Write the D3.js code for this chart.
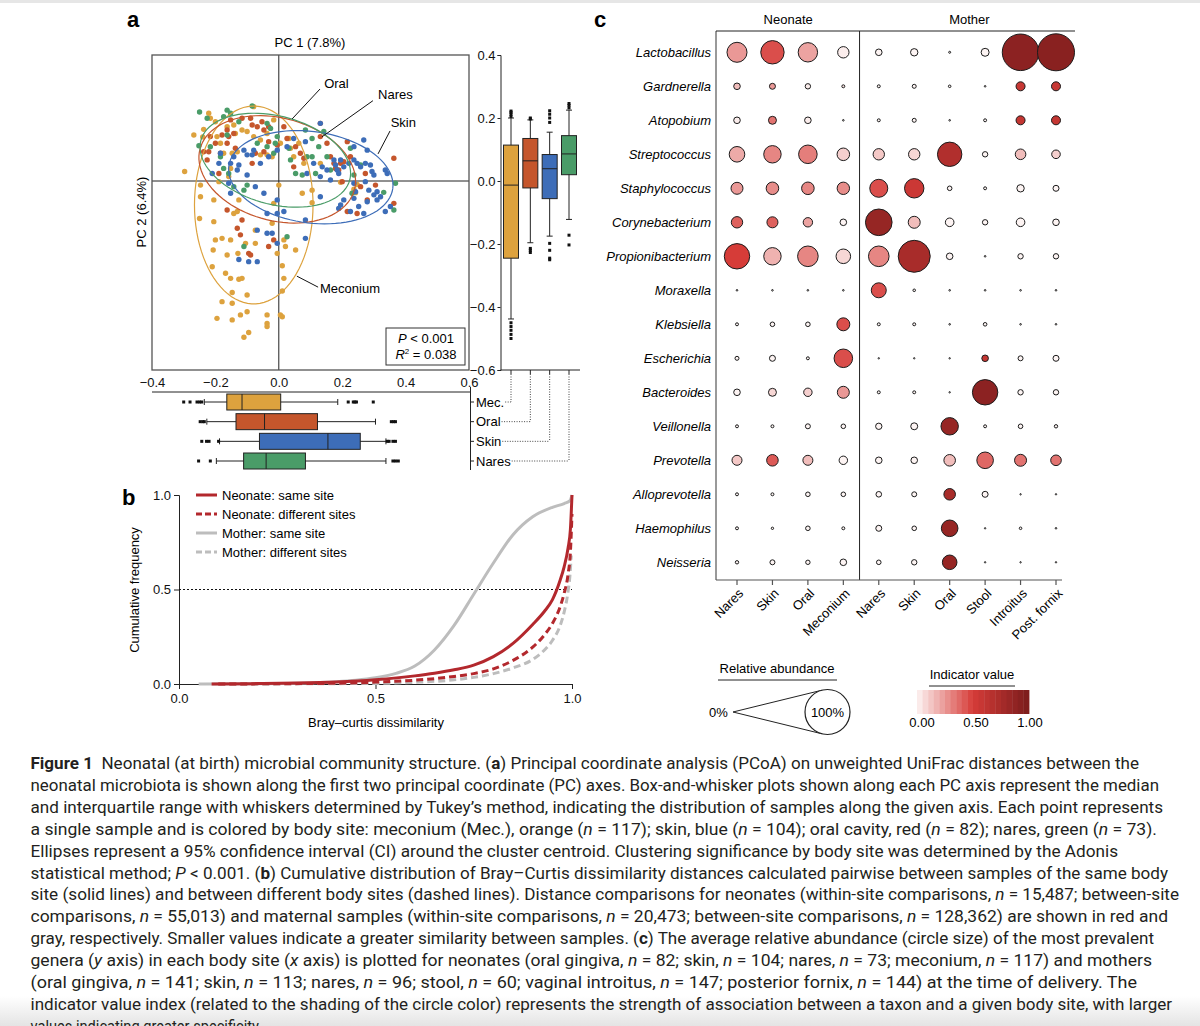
<!DOCTYPE html>
<html>
<head>
<meta charset="utf-8">
<script src="https://cdn.jsdelivr.net/npm/d3@7/dist/d3.min.js"></script>
<style>
  body { margin: 0; background: #fff; }
  svg { font-family: "Liberation Sans", Arial, Helvetica, sans-serif; }
</style>
</head>
<body>
<svg id="fig" width="1200" height="1026"></svg>
<script>
// ---------- panel a : PCoA points (PC1, PC2) ----------
var siteNames = ["Mec.", "Oral", "Skin", "Nares"];
var siteColors = ["#DDA23E", "#C5562C", "#3D6DB8", "#4A9C68"];

var mecPts = [[-0.297,0.030],[-0.250,-0.119],[-0.205,-0.129],[-0.200,-0.187],[-0.179,-0.182],[-0.152,-0.187],
  [-0.207,-0.219],[-0.163,-0.235],[-0.129,-0.230],[-0.105,-0.198],[-0.074,-0.198],[-0.168,-0.293],[-0.152,-0.309],
  [-0.126,-0.312],[-0.116,-0.309],[-0.210,-0.272],[-0.147,-0.354],[-0.100,-0.362],[-0.179,-0.383],[-0.147,-0.388],
  [-0.195,-0.436],[-0.147,-0.441],[-0.121,-0.425],[-0.100,-0.415],[-0.095,-0.481],[-0.110,-0.496],[-0.037,-0.425],
  [-0.037,-0.452],[-0.037,-0.462],[0.005,-0.425],[0.011,-0.431],[0.011,-0.269],[0.016,-0.309],[0.011,-0.349],
  [-0.005,-0.230],[0.021,-0.208],[0.016,-0.187],[0.053,-0.219],[-0.021,-0.134],[-0.074,-0.156],[-0.131,-0.097],
  [-0.247,-0.050],[-0.247,-0.013],[-0.189,-0.002],[0.000,-0.013],[0.074,-0.039],[0.105,-0.029],[0.105,-0.069],
  [0.079,0.056],[0.131,0.056],[0.195,-0.004],[0.237,-0.026],[0.242,-0.037],[0.247,-0.011],[-0.268,0.146],
  [-0.221,0.215],[-0.237,0.164],[-0.216,0.199],[-0.200,0.188],[-0.163,0.172],[-0.142,0.178],[-0.137,0.151],
  [-0.116,0.162],[-0.100,0.157],[-0.079,0.141],[-0.058,0.130],[-0.037,0.151],[-0.016,0.194],[-0.079,0.236],
  [-0.131,0.093],[-0.147,0.088],[-0.184,0.120],[-0.195,0.141],[-0.152,0.040],[-0.158,0.014],[-0.174,0.088],
  [-0.058,0.083],[-0.037,0.083],[-0.021,0.077],[0.005,0.120],[0.032,0.135],[0.037,0.104],[0.047,0.077],
  [0.063,0.120],[-0.126,-0.060],[-0.016,-0.071],[-0.142,-0.103],[-0.205,-0.060],[-0.240,0.140]];

var oralPts = [[-0.152,0.194],[-0.163,0.162],[-0.179,0.146],[-0.158,0.141],[-0.142,0.151],[-0.216,0.141],
  [-0.200,0.120],[-0.163,0.120],[-0.226,0.067],[-0.221,0.093],[-0.184,0.088],[-0.137,0.104],[-0.116,0.199],
  [-0.089,0.199],[-0.084,0.178],[-0.068,0.172],[-0.053,0.188],[-0.047,0.162],[-0.032,0.172],[-0.074,0.088],
  [-0.047,0.093],[-0.084,0.056],[-0.032,0.125],[-0.005,0.114],[0.016,0.172],[0.026,0.135],[0.053,0.109],
  [0.068,0.088],[0.079,0.072],[0.047,0.045],[0.131,0.183],[0.131,0.141],[0.152,0.120],[0.163,0.077],
  [0.174,0.056],[0.189,0.035],[0.200,-0.002],[0.205,0.061],[0.216,0.125],[0.226,0.077],[0.258,-0.018],
  [0.273,0.024],[0.305,-0.013],[0.363,0.072],[0.363,-0.071],[0.279,-0.060],[0.247,-0.103],[0.216,-0.097],
  [-0.163,-0.092],[-0.131,-0.150],[-0.121,-0.171],[-0.095,-0.230],[-0.089,-0.235],[-0.032,-0.208],
  [-0.016,-0.187],[-0.116,-0.124],[-0.189,0.024],[-0.237,0.093],[0.179,0.040],[0.195,0.056]];

var skinPts = [[0.131,0.183],[0.084,0.125],[0.047,0.135],[0.026,0.109],[-0.005,0.098],[-0.032,0.077],
  [-0.058,0.056],[-0.079,0.098],[-0.084,0.083],[-0.100,0.083],[-0.110,0.098],[-0.126,0.051],[-0.142,0.077],
  [-0.189,0.056],[-0.152,0.056],[-0.210,0.024],[-0.158,-0.007],[-0.131,0.035],[-0.100,0.019],[-0.074,-0.018],
  [-0.047,-0.039],[-0.005,-0.060],[-0.005,-0.103],[0.016,-0.097],[-0.037,-0.103],[-0.068,-0.156],
  [-0.021,-0.166],[-0.005,-0.198],[0.084,-0.182],[0.084,-0.124],[0.131,0.014],[0.152,0.035],[0.174,0.067],
  [0.179,0.051],[0.184,0.035],[0.189,0.024],[0.195,0.067],[0.205,0.045],[0.221,0.056],[0.237,0.067],
  [0.247,0.056],[0.258,0.045],[0.273,0.056],[0.279,0.098],[0.289,0.051],[0.294,0.030],[0.300,0.019],
  [0.268,0.130],[0.237,0.109],[0.237,-0.007],[0.242,-0.034],[0.273,-0.002],[0.284,-0.029],[0.300,-0.044],
  [0.310,-0.034],[0.310,-0.060],[0.321,-0.050],[0.336,0.035],[0.342,0.024],[0.336,-0.097],[0.352,-0.081],
  [0.237,-0.055],[0.252,-0.081],[0.268,-0.103],[0.279,-0.066],[0.195,-0.076],[0.205,-0.060],[0.226,-0.097],
  [0.189,-0.087],[0.131,-0.050],[0.163,0.003],[0.110,0.056],[0.089,0.024],[0.137,0.045],[-0.126,-0.249],
  [-0.095,-0.256],[-0.068,-0.256],[-0.037,-0.166],[-0.152,-0.039],[-0.184,0.088]];

var naresPts = [[-0.250,0.219],[-0.163,0.225],[-0.084,0.238],[-0.226,0.199],[-0.152,0.215],[-0.174,0.204],
  [-0.252,0.112],[-0.216,0.109],[-0.184,0.077],[-0.174,0.040],[-0.158,0.024],[-0.142,-0.018],[-0.110,-0.029],
  [-0.100,-0.013],[-0.068,0.120],[-0.037,0.109],[-0.011,0.120],[-0.005,0.141],[0.032,0.104],[0.037,0.067],
  [0.053,0.024],[0.074,0.019],[-0.016,0.088],[0.089,0.077],[0.105,0.135],[0.126,0.109],[0.152,0.077],
  [0.163,0.035],[0.226,0.104],[0.237,0.019],[0.231,-0.039],[0.331,-0.036],[0.368,-0.007],[0.363,-0.092],
  [0.258,0.051],[0.084,0.162],[-0.026,0.167],[0.116,0.024],[-0.110,-0.208],[0.026,-0.177],[-0.163,0.146],
  [-0.126,0.188],[-0.037,0.183],[0.105,0.077],[0.142,0.157]];

// 95% CI ellipses: centre, semi-axes, rotation (deg)
var ellipseParams = [
  {cx: -0.079, cy: -0.076, a: 0.187, b: 0.314, angle: 0},
  {cx: -0.005, cy: 0.037, a: 0.252, b: 0.163, angle: -15},
  {cx: 0.101, cy: 0.012, a: 0.261, b: 0.145, angle: -8},
  {cx: -0.011, cy: 0.066, a: 0.243, b: 0.140, angle: -15}
];
var ellipseLabels = [
  {text: "Meconium", tx: 0.130, ty: -0.355, from: [0.124, -0.337], to: [0.057, -0.302]},
  {text: "Oral", tx: 0.143, ty: 0.295, from: [0.130, 0.292], to: [0.042, 0.197]},
  {text: "Skin", tx: 0.353, ty: 0.172, from: [0.351, 0.159], to: [0.313, 0.086]},
  {text: "Nares", tx: 0.313, ty: 0.259, from: [0.297, 0.255], to: [0.136, 0.140]}
];

// box plots along PC2 (right) and PC1 (bottom)
var boxPC2 = [
  {q1: -0.245, med: -0.013, q3: 0.114, lo: -0.438, hi: 0.200, out: [0.205, 0.212, 0.218, 0.222, -0.450, -0.462, -0.474, -0.487, -0.500]},
  {q1: -0.022, med: 0.064, q3: 0.135, lo: -0.196, hi: 0.194, out: [0.197, 0.200, -0.214, -0.220, -0.227]},
  {q1: -0.056, med: 0.039, q3: 0.084, lo: -0.175, hi: 0.155, out: [0.186, 0.200, 0.212, 0.223, -0.198, -0.220, -0.245, -0.250]},
  {q1: 0.020, med: 0.086, q3: 0.144, lo: -0.122, hi: 0.225, out: [0.232, 0.240, 0.246, -0.172, -0.203]}
];
var boxPC1 = [
  {q1: -0.164, med: -0.116, q3: 0.006, lo: -0.235, hi: 0.186, out: [-0.300, -0.280, -0.258, -0.250, -0.243, 0.219, 0.235, 0.240, 0.245, 0.298]},
  {q1: -0.135, med: -0.045, q3: 0.122, lo: -0.227, hi: 0.305, out: [-0.248, -0.240, -0.235, 0.355, 0.362, 0.368]},
  {q1: -0.061, med: 0.155, q3: 0.257, lo: -0.187, hi: 0.338, out: [-0.243, -0.228, -0.220, -0.190, 0.342, 0.348, 0.360, 0.368]},
  {q1: -0.111, med: -0.040, q3: 0.084, lo: -0.197, hi: 0.338, out: [-0.253, -0.216, 0.360, 0.368, 0.377]}
];

// ---------- panel b : cumulative distributions ----------
var bLegend = ["Neonate: same site", "Neonate: different sites", "Mother: same site", "Mother: different sites"];
var neoSame = [[0.083,0],[0.2,0.002],[0.3,0.005],[0.4,0.011],[0.5,0.023],[0.6,0.043],[0.65,0.057],[0.7,0.075],
  [0.75,0.1],[0.8,0.145],[0.85,0.215],[0.9,0.315],[0.93,0.385],[0.95,0.445],[0.97,0.55],[0.98,0.62],
  [0.99,0.72],[0.996,0.82],[1.0,1.0]];
var neoDiff = [[0.1,0],[0.4,0.004],[0.5,0.01],[0.6,0.02],[0.7,0.04],[0.75,0.055],[0.8,0.08],[0.85,0.125],
  [0.9,0.195],[0.93,0.26],[0.95,0.32],[0.97,0.41],[0.98,0.48],[0.99,0.58],[0.996,0.7],[1.0,0.9]];
var motSame = [[0.05,0],[0.2,0.001],[0.3,0.004],[0.4,0.012],[0.45,0.02],[0.5,0.033],[0.55,0.055],[0.6,0.095],
  [0.65,0.18],[0.7,0.31],[0.75,0.475],[0.8,0.64],[0.85,0.79],[0.9,0.885],[0.95,0.935],[0.98,0.955],
  [0.995,0.97],[1.0,1.0]];
var motDiff = [[0.1,0],[0.5,0.003],[0.6,0.009],[0.7,0.022],[0.75,0.035],[0.8,0.055],[0.85,0.085],[0.9,0.13],
  [0.93,0.18],[0.95,0.23],[0.97,0.31],[0.98,0.38],[0.99,0.49],[0.995,0.58],[0.998,0.68]];

// ---------- panel c : genus x body site ----------
var genera = ["Lactobacillus","Gardnerella","Atopobium","Streptococcus","Staphylococcus","Corynebacterium",
  "Propionibacterium","Moraxella","Klebsiella","Escherichia","Bacteroides","Veillonella","Prevotella",
  "Alloprevotella","Haemophilus","Neisseria"];
var colLabels = ["Nares","Skin","Oral","Meconium","Nares","Skin","Oral","Stool","Introitus","Post. fornix"];
var groupLabels = ["Neonate", "Mother"];
// relative abundance (%)
var abundance = [
  [19.8, 27.0, 18.6, 6.4, 2.15, 2.7, 0.2, 3.16, 66.0, 67.6],
  [2.15, 1.78, 1.44, 0.44, 0.44, 0.79, 0.33, 0.13, 4.0, 4.0],
  [2.15, 3.16, 2.15, 0.13, 0.44, 0.79, 0.13, 0.44, 4.0, 4.0],
  [12.0, 15.0, 17.0, 7.8, 6.4, 6.4, 29.4, 1.44, 5.55, 3.65],
  [7.1, 7.8, 7.8, 7.6, 16.0, 18.6, 1.04, 0.44, 2.7, 1.78],
  [6.4, 6.0, 4.36, 2.15, 35.0, 7.1, 3.65, 1.44, 3.65, 2.15],
  [31.9, 15.0, 21.0, 10.5, 21.0, 50.6, 2.15, 0.13, 1.44, 1.44],
  [0.13, 0.13, 0.13, 0.13, 11.1, 0.33, 0.13, 0.13, 0.13, 0.13],
  [0.44, 1.04, 1.04, 8.3, 0.44, 0.44, 0.13, 0.64, 0.13, 0.13],
  [0.79, 1.78, 0.44, 17.0, 0.1, 0.1, 0.1, 2.15, 1.23, 1.78],
  [2.15, 3.16, 3.5, 7.1, 0.44, 0.44, 0.1, 31.9, 1.44, 1.44],
  [0.44, 0.44, 1.23, 1.04, 2.0, 2.4, 15.0, 0.44, 1.04, 0.57],
  [4.94, 6.6, 4.94, 3.5, 2.15, 2.15, 6.6, 13.6, 7.1, 5.55],
  [0.44, 0.44, 1.04, 1.04, 1.55, 1.23, 6.6, 1.78, 0.1, 0.1],
  [0.44, 0.28, 1.04, 0.44, 1.78, 1.04, 13.6, 0.1, 0.33, 0.13],
  [0.57, 1.23, 0.96, 2.15, 1.04, 1.44, 10.5, 0.1, 0.1, 0.1]
];
// indicator value
var indicator = [
  [0.25, 0.45, 0.22, 0.02, 0, 0, 0, 0, 0.9, 0.92],
  [0.15, 0.25, 0.02, 0.05, 0, 0, 0, 0, 0.58, 0.58],
  [0.02, 0.35, 0.02, 0, 0, 0, 0, 0, 0.6, 0.6],
  [0.2, 0.3, 0.32, 0.1, 0.12, 0.08, 0.7, 0, 0.15, 0.1],
  [0.25, 0.28, 0.3, 0.28, 0.45, 0.56, 0, 0, 0, 0],
  [0.4, 0.4, 0.22, 0, 0.85, 0.15, 0, 0, 0, 0],
  [0.5, 0.18, 0.3, 0.08, 0.3, 0.75, 0, 0, 0, 0],
  [0, 0, 0, 0, 0.45, 0, 0, 0, 0, 0],
  [0, 0, 0, 0.45, 0, 0, 0, 0, 0, 0],
  [0, 0, 0, 0.45, 0, 0, 0, 0.6, 0, 0],
  [0, 0.08, 0.1, 0.25, 0, 0, 0, 0.9, 0, 0],
  [0, 0, 0, 0, 0, 0, 0.85, 0, 0, 0],
  [0.12, 0.42, 0.15, 0, 0, 0, 0.15, 0.38, 0.35, 0.35],
  [0, 0, 0, 0, 0, 0, 0.75, 0, 0, 0],
  [0, 0, 0, 0, 0, 0, 0.85, 0, 0, 0],
  [0, 0, 0, 0, 0, 0, 0.85, 0, 0, 0]
];
var indTicks = [0, 0.5, 1];

// ---------- caption ----------
var captionLines = [
  "**Figure 1**  Neonatal (at birth) microbial community structure. (**a**) Principal coordinate analysis (PCoA) on unweighted UniFrac distances between the",
  "neonatal microbiota is shown along the first two principal coordinate (PC) axes. Box-and-whisker plots shown along each PC axis represent the median",
  "and interquartile range with whiskers determined by Tukey\u2019s method, indicating the distribution of samples along the given axis. Each point represents",
  "a single sample and is colored by body site: meconium (Mec.), orange (*n* = 117); skin, blue (*n* = 104); oral cavity, red (*n* = 82); nares, green (*n* = 73).",
  "Ellipses represent a 95% confidence interval (CI) around the cluster centroid. Clustering significance by body site was determined by the Adonis",
  "statistical method; *P* < 0.001. (**b**) Cumulative distribution of Bray\u2013Curtis dissimilarity distances calculated pairwise between samples of the same body",
  "site (solid lines) and between different body sites (dashed lines). Distance comparisons for neonates (within-site comparisons, *n* = 15,487; between-site",
  "comparisons, *n* = 55,013) and maternal samples (within-site comparisons, *n* = 20,473; between-site comparisons, *n* = 128,362) are shown in red and",
  "gray, respectively. Smaller values indicate a greater similarity between samples. (**c**) The average relative abundance (circle size) of the most prevalent",
  "genera (*y* axis) in each body site (*x* axis) is plotted for neonates (oral gingiva, *n* = 82; skin, *n* = 104; nares, *n* = 73; meconium, *n* = 117) and mothers",
  "(oral gingiva, *n* = 141; skin, *n* = 113; nares, *n* = 96; stool, *n* = 60; vaginal introitus, *n* = 147; posterior fornix, *n* = 144) at the time of delivery. The",
  "indicator value index (related to the shading of the circle color) represents the strength of association between a taxon and a given body site, with larger",
  "values indicating greater specificity."
];
var captionEnds = [1139, 1159, 1163, 1157, 1118, 1168, 1179, 1168, 1154, 1152, 1137, 1172, 262];

var svg = d3.select("#fig");
var defs = svg.append("defs");

// page shading (scan edges)
var shade = defs.append("linearGradient").attr("id", "shade").attr("x1", 0).attr("x2", 0).attr("y1", 0).attr("y2", 1);
shade.append("stop").attr("offset", 0).attr("stop-color", "#ffffff");
shade.append("stop").attr("offset", 1).attr("stop-color", "#e4e4e4");
svg.append("rect").attr("x", 0).attr("y", 0).attr("width", 1200).attr("height", 3).attr("fill", "#e6e6e6");
svg.append("rect").attr("x", 0).attr("y", 996).attr("width", 1200).attr("height", 30).attr("fill", "url(#shade)");

function panelLabel(t, px, py) {
  svg.append("text").attr("x", px).attr("y", py).attr("font-size", 22).attr("font-weight", "bold").text(t);
}

// ================= panel a =================
panelLabel("a", 127, 27);
var x = d3.scaleLinear().domain([-0.4, 0.6]).range([152, 469]);
var y = d3.scaleLinear().domain([-0.6, 0.4]).range([370, 55]);

var ga = svg.append("g");
ga.append("text").attr("x", 310).attr("y", 47).attr("text-anchor", "middle").attr("font-size", 13).text("PC 1 (7.8%)");
ga.append("text").attr("transform", "translate(146,212) rotate(-90)").attr("text-anchor", "middle")
  .attr("font-size", 13).text("PC 2 (6.4%)");

var xAxisA = d3.axisBottom(x).tickValues([-0.4, -0.2, 0, 0.2, 0.4, 0.6]).tickFormat(d3.format(".1f")).tickSize(0).tickPadding(7);
ga.append("g").attr("transform", "translate(0,371)").call(xAxisA)
  .call(function(g) { g.select(".domain").remove(); })
  .selectAll("text").attr("font-size", 13).attr("fill", "#111").attr("font-family", null);

ga.append("line").attr("x1", x(0)).attr("x2", x(0)).attr("y1", y(0.4)).attr("y2", y(-0.6)).attr("stroke", "#222");
ga.append("line").attr("x1", x(-0.4)).attr("x2", x(0.6)).attr("y1", y(0)).attr("y2", y(0)).attr("stroke", "#222");

var allPts = [mecPts, oralPts, naresPts, skinPts];
var ptColorIdx = [0, 1, 3, 2];
allPts.forEach(function(pts, k) {
  ga.append("g").selectAll("circle").data(pts).enter().append("circle")
    .attr("cx", function(d) { return x(d[0]); })
    .attr("cy", function(d) { return y(d[1]); })
    .attr("r", 2.7)
    .attr("fill", siteColors[ptColorIdx[k]]);
});

function ellipsePts(e) {
  var pts = [], th = e.angle * Math.PI / 180;
  for (var i = 0; i <= 90; i++) {
    var t = i / 90 * 2 * Math.PI;
    var ux = e.a * Math.cos(t), uy = e.b * Math.sin(t);
    pts.push([e.cx + ux * Math.cos(th) - uy * Math.sin(th), e.cy + ux * Math.sin(th) + uy * Math.cos(th)]);
  }
  return pts;
}
var eLine = d3.line().x(function(d) { return x(d[0]); }).y(function(d) { return y(d[1]); });
ellipseParams.forEach(function(e, i) {
  ga.append("path").attr("d", eLine(ellipsePts(e))).attr("fill", "none")
    .attr("stroke", siteColors[i]).attr("stroke-width", 1.2);
});
ellipseLabels.forEach(function(l) {
  ga.append("line").attr("x1", x(l.from[0])).attr("y1", y(l.from[1])).attr("x2", x(l.to[0])).attr("y2", y(l.to[1]))
    .attr("stroke", "#111").attr("stroke-width", 1);
  ga.append("text").attr("x", x(l.tx)).attr("y", y(l.ty)).attr("font-size", 13).text(l.text);
});

ga.append("rect").attr("x", x(-0.4)).attr("y", y(0.4)).attr("width", x(0.6) - x(-0.4)).attr("height", y(-0.6) - y(0.4))
  .attr("fill", "none").attr("stroke", "#555").attr("stroke-width", 1.3);

// stats box
var sb = ga.append("g").attr("transform", "translate(386,328)");
sb.append("rect").attr("width", 79).attr("height", 37).attr("fill", "#fff").attr("stroke", "#333").attr("stroke-width", 1);
var t1 = sb.append("text").attr("x", 40).attr("y", 15).attr("text-anchor", "middle").attr("font-size", 13);
t1.append("tspan").attr("font-style", "italic").text("P");
t1.append("tspan").text(" < 0.001");
var t2 = sb.append("text").attr("x", 40).attr("y", 31).attr("text-anchor", "middle").attr("font-size", 13);
t2.append("tspan").attr("font-style", "italic").text("R");
t2.append("tspan").attr("font-size", 8).attr("dy", -5).text("2");
t2.append("tspan").attr("dy", 5).text(" = 0.038");

// right box plots (PC2)
var xr = d3.scalePoint().domain(siteNames).range([511, 569]);
var gr = ga.append("g");
var yAxisR = d3.axisLeft(y).tickValues([0.4, 0.2, 0, -0.2, -0.4, -0.6]).tickFormat(d3.format(".1f")).tickSize(3).tickPadding(2);
gr.append("g").attr("transform", "translate(500.5,0)").call(yAxisR)
  .call(function(g) { g.select(".domain").attr("stroke", "#222"); g.selectAll(".tick line").attr("stroke", "#222"); })
  .selectAll("text").attr("font-size", 13).attr("fill", "#111").attr("font-family", null);
gr.append("line").attr("x1", 500.5).attr("x2", 580).attr("y1", y(-0.6)).attr("y2", y(-0.6)).attr("stroke", "#222");

boxPC2.forEach(function(b, i) {
  var c = xr(siteNames[i]), w = 15;
  gr.append("line").attr("x1", c).attr("x2", c).attr("y1", y(b.hi)).attr("y2", y(b.lo)).attr("stroke", "#222");
  gr.append("line").attr("x1", c - 3).attr("x2", c + 3).attr("y1", y(b.hi)).attr("y2", y(b.hi)).attr("stroke", "#222");
  gr.append("line").attr("x1", c - 3).attr("x2", c + 3).attr("y1", y(b.lo)).attr("y2", y(b.lo)).attr("stroke", "#222");
  gr.append("rect").attr("x", c - w / 2).attr("width", w).attr("y", y(b.q3)).attr("height", y(b.q1) - y(b.q3))
    .attr("fill", siteColors[i]).attr("stroke", "#222");
  gr.append("line").attr("x1", c - w / 2).attr("x2", c + w / 2).attr("y1", y(b.med)).attr("y2", y(b.med)).attr("stroke", "#222");
  gr.selectAll(null).data(b.out).enter().append("rect")
    .attr("x", c - 1.5).attr("y", function(d) { return y(d) - 1.5; }).attr("width", 3).attr("height", 3).attr("fill", "#111");
  gr.append("line").attr("x1", c).attr("x2", c).attr("y1", y(-0.6)).attr("y2", y(-0.6) + 4).attr("stroke", "#222");
});

// bottom box plots (PC1)
var yb = d3.scalePoint().domain(siteNames).range([402, 461]);
var gb2 = ga.append("g");
gb2.append("line").attr("x1", x(-0.4)).attr("x2", 470.5).attr("y1", 392).attr("y2", 392).attr("stroke", "#222");
gb2.append("line").attr("x1", 470.5).attr("x2", 470.5).attr("y1", 387).attr("y2", 470).attr("stroke", "#222");
boxPC1.forEach(function(b, i) {
  var c = yb(siteNames[i]), h = 16;
  gb2.append("line").attr("y1", c).attr("y2", c).attr("x1", x(b.lo)).attr("x2", x(b.hi)).attr("stroke", "#222");
  gb2.append("line").attr("y1", c - 3).attr("y2", c + 3).attr("x1", x(b.lo)).attr("x2", x(b.lo)).attr("stroke", "#222");
  gb2.append("line").attr("y1", c - 3).attr("y2", c + 3).attr("x1", x(b.hi)).attr("x2", x(b.hi)).attr("stroke", "#222");
  gb2.append("rect").attr("y", c - h / 2).attr("height", h).attr("x", x(b.q1)).attr("width", x(b.q3) - x(b.q1))
    .attr("fill", siteColors[i]).attr("stroke", "#222");
  gb2.append("line").attr("y1", c - h / 2).attr("y2", c + h / 2).attr("x1", x(b.med)).attr("x2", x(b.med)).attr("stroke", "#222");
  gb2.selectAll(null).data(b.out).enter().append("rect")
    .attr("y", c - 1.5).attr("x", function(d) { return x(d) - 1.5; }).attr("width", 3).attr("height", 3).attr("fill", "#111");
  gb2.append("line").attr("x1", 470.5).attr("x2", 474).attr("y1", c).attr("y2", c).attr("stroke", "#222");
  var lab = gb2.append("text").attr("x", 476).attr("y", c).attr("dy", "0.35em").attr("font-size", 13).text(siteNames[i]);
  var endX = 476 + lab.node().getComputedTextLength() + 1;
  var xc = xr(siteNames[i]);
  gb2.append("line").attr("x1", xc).attr("x2", xc).attr("y1", y(-0.6) + 4).attr("y2", c)
    .attr("stroke", "#444").attr("stroke-dasharray", "1,1.5");
  if (xc > endX) {
    gb2.append("line").attr("x1", endX).attr("x2", xc).attr("y1", c).attr("y2", c)
      .attr("stroke", "#444").attr("stroke-dasharray", "1,1.5");
  }
});

// ================= panel b =================
panelLabel("b", 122, 505);
var bx = d3.scaleLinear().domain([0, 1]).range([179, 572]);
var by = d3.scaleLinear().domain([0, 1]).range([684, 495]);
var gbp = svg.append("g");
gbp.append("g").attr("transform", "translate(179,0)")
  .call(d3.axisLeft(by).tickValues([0, 0.5, 1]).tickFormat(d3.format(".1f")).tickSize(5).tickPadding(3))
  .call(function(g) { g.select(".domain").attr("stroke", "#222"); g.selectAll(".tick line").attr("stroke", "#222"); })
  .selectAll("text").attr("font-size", 13).attr("fill", "#111").attr("font-family", null);
gbp.append("g").attr("transform", "translate(0,684)")
  .call(d3.axisBottom(bx).tickValues([0, 0.5, 1]).tickFormat(d3.format(".1f")).tickSize(5).tickPadding(5).tickSizeOuter(0))
  .call(function(g) { g.select(".domain").attr("stroke", "#222"); g.selectAll(".tick line").attr("stroke", "#222"); })
  .selectAll("text").attr("font-size", 13).attr("fill", "#111").attr("font-family", null);
gbp.append("text").attr("transform", "translate(139,590) rotate(-90)").attr("text-anchor", "middle")
  .attr("font-size", 13).text("Cumulative frequency");
gbp.append("text").attr("x", 376).attr("y", 727).attr("text-anchor", "middle").attr("font-size", 13).text("Bray\u2013curtis dissimilarity");
gbp.append("line").attr("x1", bx(0)).attr("x2", bx(1)).attr("y1", by(0.5)).attr("y2", by(0.5))
  .attr("stroke", "#111").attr("stroke-dasharray", "2,2");

var cdf = d3.line().x(function(d) { return bx(d[0]); }).y(function(d) { return by(d[1]); }).curve(d3.curveMonotoneX);
var bSeries = [neoSame, neoDiff, motSame, motDiff];
var bColors = ["#B3282D", "#B3282D", "#BDBDBD", "#BDBDBD"];
var bDash = [null, "7,4", null, "7,4"];
[2, 3, 1, 0].forEach(function(i) {
  gbp.append("path").attr("d", cdf(bSeries[i])).attr("fill", "none").attr("stroke", bColors[i])
    .attr("stroke-width", 3).attr("stroke-dasharray", bDash[i]);
});
bLegend.forEach(function(t, i) {
  var ly = 495 + i * 19;
  gbp.append("line").attr("x1", 196).attr("x2", 217).attr("y1", ly).attr("y2", ly)
    .attr("stroke", bColors[i]).attr("stroke-width", 3).attr("stroke-dasharray", bDash[i] ? "6,3" : null);
  gbp.append("text").attr("x", 222).attr("y", ly).attr("dy", "0.35em").attr("font-size", 13).text(t);
});

// ================= panel c =================
panelLabel("c", 594, 27);
var cx = d3.scalePoint().domain(d3.range(colLabels.length)).range([737, 1056]);
var cy = d3.scalePoint().domain(genera).range([52.3, 562.3]);
var rScale = d3.scaleSqrt().domain([0, 100]).range([0, 22.5]);
var indColor = d3.scaleLinear().domain([0, 0.5, 1]).range(["#fdf4f3", "#d63c38", "#7a1c1c"]);
var gc = svg.append("g");
var divX = (cx(3) + cx(4)) / 2 - 1.5;
gc.append("line").attr("x1", 716).attr("x2", 716).attr("y1", 31).attr("y2", 580).attr("stroke", "#555").attr("stroke-width", 1.2);
gc.append("line").attr("x1", 716).attr("x2", 1075).attr("y1", 31).attr("y2", 31).attr("stroke", "#222");
gc.append("line").attr("x1", divX).attr("x2", divX).attr("y1", 31).attr("y2", 580).attr("stroke", "#222");
gc.append("line").attr("x1", 716).attr("x2", 1062).attr("y1", 580).attr("y2", 580).attr("stroke", "#555").attr("stroke-width", 1.2);
gc.append("text").attr("x", d3.mean([cx(0), cx(3)]) - 2).attr("y", 24).attr("text-anchor", "middle").attr("font-size", 13).text(groupLabels[0]);
gc.append("text").attr("x", d3.mean([cx(4), cx(9)]) + 2).attr("y", 24).attr("text-anchor", "middle").attr("font-size", 13).text(groupLabels[1]);

genera.forEach(function(g, gi) {
  gc.append("text").attr("x", 711).attr("y", cy(g)).attr("dy", "0.35em").attr("text-anchor", "end")
    .attr("font-size", 13).attr("font-style", "italic").text(g);
  gc.append("g").selectAll("circle").data(abundance[gi]).enter().append("circle")
    .attr("cx", function(d, j) { return cx(j); })
    .attr("cy", cy(g))
    .attr("r", function(d) { return rScale(d); })
    .attr("fill", function(d, j) { return indColor(indicator[gi][j]); })
    .attr("stroke", "#1c1c1c").attr("stroke-width", 1);
});
colLabels.forEach(function(l, j) {
  gc.append("line").attr("x1", cx(j)).attr("x2", cx(j)).attr("y1", 580).attr("y2", 585).attr("stroke", "#555").attr("stroke-width", 1.2);
  gc.append("text").attr("transform", "translate(" + (cx(j) + 4) + ",591) rotate(-45)")
    .attr("text-anchor", "end").attr("dy", "0.35em").attr("font-size", 13).text(l);
});

// relative abundance legend
var gl = svg.append("g");
gl.append("text").attr("x", 777).attr("y", 673).attr("text-anchor", "middle").attr("font-size", 13).text("Relative abundance");
gl.append("line").attr("x1", 718).attr("x2", 837).attr("y1", 680).attr("y2", 680).attr("stroke", "#222");
var lc = {x: 827.5, y: 712, r: rScale(100)}, apex = {x: 733, y: 712};
var dd = lc.x - apex.x, tl = Math.sqrt(dd * dd - lc.r * lc.r), al = Math.asin(lc.r / dd);
[-1, 1].forEach(function(s) {
  gl.append("line").attr("x1", apex.x).attr("y1", apex.y)
    .attr("x2", apex.x + tl * Math.cos(al)).attr("y2", apex.y + s * tl * Math.sin(al)).attr("stroke", "#222");
});
gl.append("circle").attr("cx", lc.x).attr("cy", lc.y).attr("r", lc.r).attr("fill", "#fff").attr("stroke", "#222").attr("stroke-width", 1.2);
gl.append("text").attr("x", lc.x).attr("y", lc.y).attr("dy", "0.35em").attr("text-anchor", "middle").attr("font-size", 13).text("100%");
gl.append("text").attr("x", 709).attr("y", 712).attr("dy", "0.35em").attr("font-size", 13).text("0%");

// indicator legend
gl.append("text").attr("x", 972).attr("y", 679).attr("text-anchor", "middle").attr("font-size", 13).text("Indicator value");
gl.append("line").attr("x1", 929).attr("x2", 1015).attr("y1", 686).attr("y2", 686).attr("stroke", "#222");
var lx = d3.scaleLinear().domain([0, 1]).range([917, 1029]);
var steps = d3.range(20).map(function(i) { return i / 20; });
gl.selectAll(null).data(steps).enter().append("rect")
  .attr("x", function(d) { return lx(d); }).attr("width", lx(0.05) - lx(0) + 0.4)
  .attr("y", 690).attr("height", 24)
  .attr("fill", function(d) { return indColor(d + 0.025); });
var lxl = d3.scaleLinear().domain([0, 1]).range([922, 1030]);
gl.selectAll(null).data(indTicks).enter().append("text")
  .attr("x", function(d) { return lxl(d); }).attr("y", 727).attr("text-anchor", "middle").attr("font-size", 13)
  .text(d3.format(".2f"));

// ================= caption =================
var gcap = svg.append("g").attr("font-size", 16).attr("fill", "#231f20")
  .attr("font-family", "Roboto, 'Liberation Sans', Arial, sans-serif");
captionLines.forEach(function(line, i) {
  var t = gcap.append("text").attr("x", 30.5).attr("y", 769 + i * 21.9)
    .style("white-space", "pre")
    .attr("textLength", captionEnds[i] - 30.5).attr("lengthAdjust", "spacingAndGlyphs");
  line.split(/(\*\*[^*]+\*\*|\*[^*]+\*)/).forEach(function(part) {
    if (!part) return;
    var ts = t.append("tspan");
    if (part.indexOf("**") === 0) ts.attr("font-weight", "bold").text(part.slice(2, -2));
    else if (part.indexOf("*") === 0) ts.attr("font-style", "italic").text(part.slice(1, -1));
    else ts.text(part);
  });
});
</script>
</body>
</html>
